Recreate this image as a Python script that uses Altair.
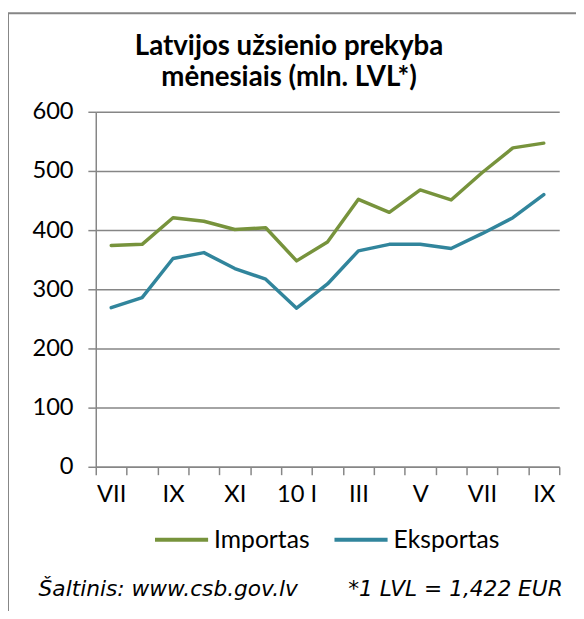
import altair as alt
import pandas as pd

MONTHS = ["VII", "VIII", "IX", "X", "XI", "XII", "10 I", "II", "III", "IV", "V", "VI", "VII", "VIII", "IX"]
IMPORTAS = [374, 376, 421, 415, 401, 404, 348, 380, 452, 430, 468, 451, 497, 539, 547]
EKSPORTAS = [269, 286, 352, 362, 335, 317, 268, 309, 365, 376, 376, 369, 394, 421, 460]
SERIES = ["Importas", "Eksportas"]
COLORS = ["#77933C", "#31859C"]
TITLE = ["Latvijos užsienio prekyba", "mėnesiais (mln. LVL*)"]
FOOTNOTES = ["Šaltinis: www.csb.gov.lv", "*1 LVL = 1,422 EUR"]
Y_TICKS = [0, 100, 200, 300, 400, 500, 600]

rows = []
for name, vals in zip(SERIES, [IMPORTAS, EKSPORTAS]):
    for i, (m, v) in enumerate(zip(MONTHS, vals)):
        rows.append({"pos": i + 0.5, "month": m, "value": v, "series": name})
df = pd.DataFrame(rows)

FONT = "Lato"
GRAY = "#868686"
W, H = 470, 360
band = W / len(MONTHS)
FS = 24

arr = "[" + ",".join("'" + m + "'" for m in MONTHS) + "]"
label_expr = f"datum.value % 2 == 0 && datum.value < {len(MONTHS)} ? {arr}[datum.value] : ''"

lines = alt.Chart(df).mark_line(strokeWidth=3.5, strokeJoin="round", strokeCap="round").encode(
    x=alt.X("pos:Q",
            scale=alt.Scale(domain=[0, len(MONTHS)], nice=False, zero=False),
            axis=alt.Axis(values=list(range(len(MONTHS) + 1)), labelExpr=label_expr,
                          labelOffset=band / 2, labelOverlap=False, labelFlush=False,
                          labelBound=False, grid=False, tickSize=8, tickColor=GRAY,
                          tickWidth=1.5, domainColor=GRAY, domainWidth=1.5,
                          labelFontSize=FS, labelPadding=8, labelColor="#000000",
                          title=None)),
    y=alt.Y("value:Q",
            scale=alt.Scale(domain=[0, 600], nice=False),
            axis=alt.Axis(values=Y_TICKS, grid=True, gridColor=GRAY, gridWidth=1.5,
                          tickSize=8, tickColor=GRAY, tickWidth=1.5, domainColor=GRAY,
                          domainWidth=1.5, labelFontSize=FS, labelPadding=15,
                          labelColor="#000000", title=None)),
    color=alt.Color("series:N",
                    scale=alt.Scale(domain=SERIES, range=COLORS),
                    legend=alt.Legend(orient="none", legendX=58, legendY=405,
                                      direction="horizontal", title=None,
                                      symbolType="stroke", symbolStrokeWidth=4,
                                      symbolSize=2900, labelFontSize=25,
                                      labelColor="#000000", columnPadding=17,
                                      labelOffset=4)),
    order="pos:Q",
)

title_df = pd.DataFrame({"t": TITLE, "y": [-66, -34]})
title = alt.Chart(title_df).mark_text(align="center", baseline="middle", fontSize=28,
                                      fontWeight="bold", font=FONT, color="#000000").encode(
    x=alt.value(196),
    y=alt.Y("y:Q", scale=None),
    text="t:N",
)

foot_df = pd.DataFrame({"t": FOOTNOTES, "x": [-58, 256]})
foot = alt.Chart(foot_df).mark_text(align="left", baseline="middle", fontSize=22,
                                    fontStyle="italic", font="DejaVu Sans",
                                    color="#000000").encode(
    x=alt.X("x:Q", scale=None),
    y=alt.value(484),
    text="t:N",
)

frame_top = alt.Chart(pd.DataFrame({"a": [0]})).mark_rule(color=GRAY, strokeWidth=2).encode(
    x=alt.value(-89), x2=alt.value(W + 20), y=alt.value(-100))
frame_left = alt.Chart(pd.DataFrame({"a": [0]})).mark_rule(color=GRAY, strokeWidth=2).encode(
    x=alt.value(-89), y=alt.value(-100), y2=alt.value(H + 150))

chart = alt.layer(lines, title, foot, frame_top, frame_left).properties(
    width=W, height=H,
    autosize=alt.AutoSizeParams(type="none"),
    padding={"left": 89, "top": 101, "right": 17, "bottom": 142},
).configure(font=FONT).configure_view(stroke=None)

chart.save("out.html", embed_options={"renderer": "svg", "actions": False})
